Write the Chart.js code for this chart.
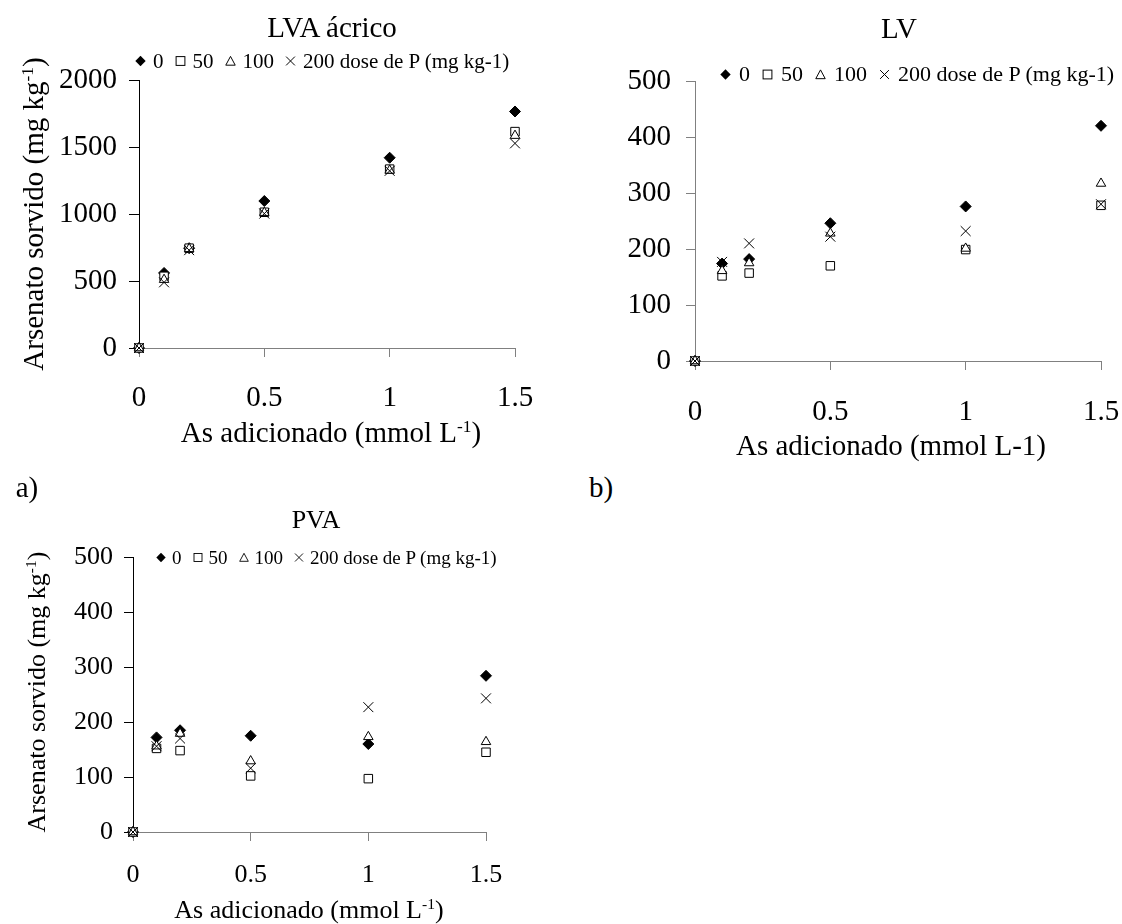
<!DOCTYPE html>
<html>
<head>
<meta charset="utf-8">
<script src="https://cdn.jsdelivr.net/npm/chart.js@4/dist/chart.umd.min.js"></script>
<style>
    body { margin: 0; background: #fff; font-family: "Liberation Serif", "Times New Roman", serif; color: #000; }
    #page { position: relative; width: 1122px; height: 924px; overflow: hidden; }
    canvas { position: absolute; }
    .txt { position: absolute; white-space: nowrap; line-height: 1; transform: translate(-50%, -50%); }
    .ytitle { transform: translate(-50%, -50%) rotate(-90deg); }
    .legend { position: absolute; display: flex; align-items: center; white-space: nowrap; line-height: 1; transform: translateY(-50%); }
    .legend svg { display: block; flex: none; }
    sup { font-size: 0.6em; vertical-align: 0.55em; line-height: 0; }
</style>
</head>
<body>
<div id="page">
    <canvas id="chart-lva" width="560" height="440" style="left:0;top:0"></canvas>
    <canvas id="chart-lv" width="562" height="460" style="left:560px;top:0"></canvas>
    <canvas id="chart-pva" width="560" height="484" style="left:0;top:440px"></canvas>

    <div class="txt" style="left:332px;top:27px;font-size:29px">LVA ácrico</div>
    <div class="txt ytitle" style="left:33px;top:214px;font-size:29px">Arsenato sorvido (mg kg<sup>-1</sup>)</div>
    <div class="txt" style="left:331px;top:432px;font-size:29px">As adicionado (mmol L<sup>-1</sup>)</div>
    <div class="txt" style="left:27px;top:487px;font-size:29px">a)</div>

    <div class="txt" style="left:899px;top:28px;font-size:29px">LV</div>
    <div class="txt" style="left:891px;top:445px;font-size:29px">As adicionado (mmol L-1)</div>
    <div class="txt" style="left:601px;top:487px;font-size:29px">b)</div>

    <div class="txt" style="left:316px;top:520px;font-size:26px">PVA</div>
    <div class="txt ytitle" style="left:37px;top:692px;font-size:26px">Arsenato sorvido (mg kg<sup>-1</sup>)</div>
    <div class="txt" style="left:309px;top:910px;font-size:26px">As adicionado (mmol L<sup>-1</sup>)</div>
</div>
<script>
// As adicionado (mmol L-1)
const xAdded = [0, 0.1, 0.2, 0.5, 1, 1.5];
const xTicks = [0, 0.5, 1, 1.5];
const doseLabels = ['0', '50', '100', '200 dose de P (mg kg-1)'];

// LVA ácrico
const lvaP0 = [0, 560, 745, 1097, 1420, 1765];
const lvaP50 = [0, 535, 745, 1013, 1335, 1615];
const lvaP100 = [0, 510, 740, 1010, 1325, 1585];
const lvaP200 = [0, 490, 730, 1003, 1322, 1527];
const lvaTicks = [0, 500, 1000, 1500, 2000];

// LV
const lvP0 = [0, 174, 182, 246, 276, 420];
const lvP50 = [0, 152, 157, 170, 199, 278];
const lvP100 = [0, 161, 175, 228, 201, 317];
const lvP200 = [0, 177, 210, 222, 232, 280];

// PVA
const pvaP0 = [0, 172, 185, 175, 160, 284];
const pvaP50 = [0, 152, 148, 102, 97, 145];
const pvaP100 = [0, 156, 179, 129, 173, 164];
const pvaP200 = [0, 156, 170, 116, 227, 243];
const lowTicks = [0, 100, 200, 300, 400, 500];

const FONT = '"Liberation Serif", "Times New Roman", serif';

const MARKERS = [
    { style: 'rectRot', radius: 5.5, fill: '#000' },
    { style: 'rect', radius: 6, fill: '#fff' },
    { style: 'triangle', radius: 5.5, fill: '#fff' },
    { style: 'crossRot', radius: 7, fill: '#fff' },
];

const LEGEND_SVG = [
    '<path d="M5 0.3L9.7 5L5 9.7L0.3 5Z" fill="#000"/>',
    '<rect x="1" y="1" width="8" height="8" fill="#fff" stroke="#000" stroke-width="0.9"/>',
    '<path d="M5 0.8L9.3 8.8L0.7 8.8Z" fill="#fff" stroke="#000" stroke-width="0.9"/>',
    '<path d="M1 1L9 9M9 1L1 9" stroke="#000" stroke-width="0.9"/>',
];

function makeDatasets(series) {
    return series.map((vals, i) => ({
        label: doseLabels[i],
        data: vals.map((y, j) => ({ x: xAdded[j], y })),
        pointStyle: MARKERS[i].style,
        pointRadius: MARKERS[i].radius,
        pointHoverRadius: MARKERS[i].radius,
        pointBackgroundColor: MARKERS[i].fill,
        pointBorderColor: '#000',
        pointBorderWidth: 1,
        showLine: false,
        clip: false,
        order: series.length - 1 - i,
    }));
}

function buildPanel(canvasId, series, yTicks, o) {
    const canvas = document.getElementById(canvasId);
    return new Chart(canvas, {
        type: 'scatter',
        data: { datasets: makeDatasets(series) },
        options: {
            responsive: false,
            animation: false,
            events: [],
            layout: { padding: { left: 0, right: o.padRight, top: o.padTop, bottom: 0 } },
            scales: {
                x: {
                    type: 'linear',
                    min: xTicks[0],
                    max: xTicks[xTicks.length - 1],
                    afterBuildTicks: (s) => { s.ticks = xTicks.map((v) => ({ value: v })); },
                    afterFit: (s) => { s.height = o.xHeight; s.paddingLeft = 0; s.paddingRight = 0; },
                    grid: { drawOnChartArea: false, tickLength: 9, color: '#808080' },
                    border: { color: '#808080', width: 1 },
                    ticks: {
                        color: '#000',
                        font: { family: FONT, size: o.tickSize },
                        padding: o.xPad,
                        maxRotation: 0,
                        autoSkip: false,
                        callback: (v) => String(v),
                    },
                },
                y: {
                    type: 'linear',
                    min: yTicks[0],
                    max: yTicks[yTicks.length - 1],
                    afterBuildTicks: (s) => { s.ticks = yTicks.map((v) => ({ value: v })); },
                    afterFit: (s) => { s.width = o.yWidth; s.paddingTop = 0; s.paddingBottom = 0; },
                    grid: { drawOnChartArea: false, tickLength: o.yTick, color: o.yColor },
                    border: { color: o.yColor, width: 1 },
                    ticks: {
                        color: '#000',
                        font: { family: FONT, size: o.tickSize },
                        padding: o.yPad,
                        autoSkip: false,
                        callback: (v) => String(v),
                    },
                },
            },
            plugins: { legend: { display: false }, tooltip: { enabled: false } },
        },
    });
}

function addLegend(left, cy, size, mark, g1, g2) {
    const el = document.createElement('div');
    el.className = 'legend';
    el.style.left = left + 'px';
    el.style.top = cy + 'px';
    el.style.fontSize = size + 'px';
    doseLabels.forEach((label, i) => {
        const m = document.createElement('span');
        m.innerHTML = `<svg width="${mark}" height="${mark}" viewBox="0 0 10 10">${LEGEND_SVG[i]}</svg>`;
        m.style.marginRight = g1 + 'px';
        const txt = document.createElement('span');
        txt.textContent = label;
        if (i < doseLabels.length - 1) txt.style.marginRight = g2 + 'px';
        el.appendChild(m);
        el.appendChild(txt);
    });
    document.getElementById('page').appendChild(el);
}

buildPanel('chart-lva', [lvaP0, lvaP50, lvaP100, lvaP200], lvaTicks, {
    padRight: 45, padTop: 80, yWidth: 139, xHeight: 92,
    tickSize: 29, xPad: 24, yPad: 12, yTick: 10, yColor: '#000',
});
buildPanel('chart-lv', [lvP0, lvP50, lvP100, lvP200], lowTicks, {
    padRight: 21, padTop: 81, yWidth: 135, xHeight: 99,
    tickSize: 29, xPad: 25, yPad: 15, yTick: 9, yColor: '#808080',
});
buildPanel('chart-pva', [pvaP0, pvaP50, pvaP100, pvaP200], lowTicks, {
    padRight: 74, padTop: 117, yWidth: 133, xHeight: 92,
    tickSize: 26, xPad: 19, yPad: 11, yTick: 9, yColor: '#000',
});

addLegend(135, 61, 21, 11, 7, 11);
addLegend(720, 74, 22, 11, 8, 12);
addLegend(156, 557, 19, 10, 6, 11);
</script>
</body>
</html>
